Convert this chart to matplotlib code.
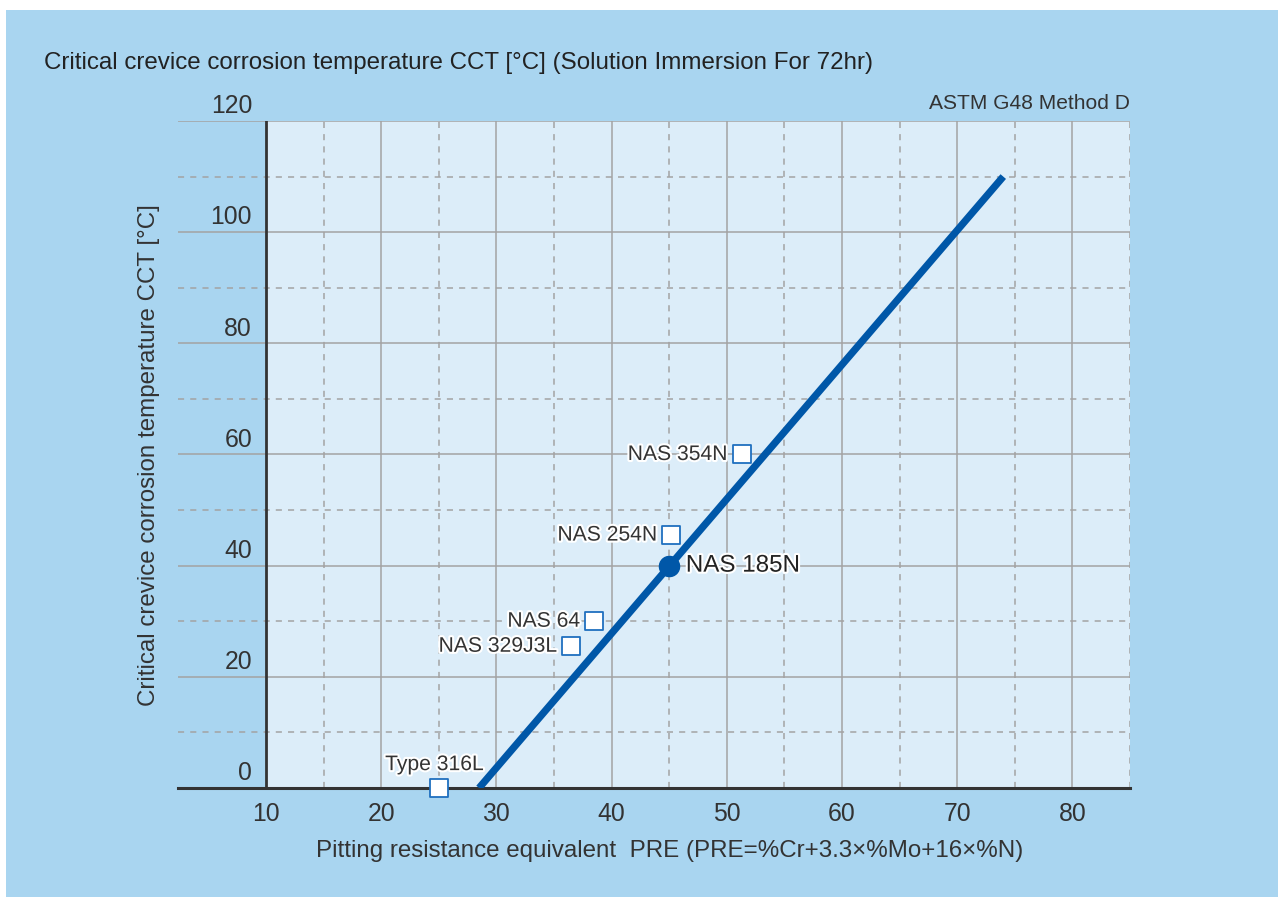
import matplotlib.pyplot as plt
import matplotlib.patheffects as pe
from matplotlib.patches import Rectangle

# data
grades = ['Type 316L', 'NAS 329J3L', 'NAS 64', 'NAS 254N', 'NAS 354N']
pre = [25, 36.5, 38.5, 45.2, 51.3]
cct = [0, 25.5, 30, 45.5, 60]
label_offset = [(-3, 10), (-10, 0), (-10, 0), (-10, 0), (-10, 0)]

line_pre = [28.5, 74]
line_cct = [0, 110]

main_name = 'NAS 185N'
main_pre = 45
main_cct = 40

xticks = [10, 20, 30, 40, 50, 60, 70, 80]
yticks = [0, 20, 40, 60, 80, 100, 120]

bg = '#a9d5f0'
plot_bg = '#dcedf9'
blue = '#0057a8'
grid_c = '#a3a3a3'
txt = '#333333'

plt.rcParams['font.family'] = ['Liberation Sans', 'DejaVu Sans']

fig = plt.figure(figsize=(12.78, 8.97), dpi=100, facecolor='white')
fig.patches.append(Rectangle((6 / 1278, 0), 1, 1 - 10 / 897, transform=fig.transFigure,
                             facecolor=bg, edgecolor='none', zorder=-10))

ax = fig.add_axes([178 / 1278, 1 - 788 / 897, 952 / 1278, 667 / 897])
ax.set_zorder(1)
ax.set_facecolor('none')
ax.set_xlim(2.37, 85)
ax.set_ylim(0, 120)
for s in ax.spines.values():
    s.set_visible(False)
ax.set_xticks([])
ax.set_yticks([])

ax.axvspan(10, 85, color=plot_bg, zorder=0, lw=0)

# grid
for v in range(15, 90, 5):
    ls = '-' if v % 10 == 0 else (0, (4, 4))
    ax.axvline(v, color=grid_c, lw=1.1, ls=ls, zorder=1)
for h in range(10, 130, 10):
    ls = '-' if h % 20 == 0 else (0, (4, 4))
    ax.axhline(h, color=grid_c, lw=1.1, ls=ls, zorder=1)
ax.axvline(10, color=txt, lw=2, zorder=2)
ax.axhline(0, color=txt, lw=2.2, zorder=2, clip_on=False)

# tick labels
for t in yticks:
    ax.text(8.8, t + 0.5, str(t), ha='right', va='bottom', fontsize=17.8, color=txt)
for t in xticks:
    ax.text(t, -2.6, str(t), ha='center', va='top', fontsize=17.8, color=txt)

# trend line and points
ax.plot(line_pre, line_cct, color=blue, lw=5.2, solid_capstyle='butt', zorder=3)
halo = [pe.withStroke(linewidth=3, foreground='white')]
ax.scatter(pre, cct, marker='s', s=150, facecolor='white', edgecolor='#1f6fbf',
           linewidth=1.3, zorder=5, clip_on=False)
for name, x, y, off in zip(grades, pre, cct, label_offset):
    ha = 'center' if off[0] > -5 else 'right'
    va = 'bottom' if off[1] > 0 else 'center'
    ax.annotate(name, (x, y), xytext=off, textcoords='offset points', ha=ha, va=va,
                fontsize=15.2, color=txt, path_effects=halo, zorder=6)
ax.scatter([main_pre], [main_cct], marker='o', s=210, color=blue, zorder=5)
ax.annotate(main_name, (main_pre, main_cct), xytext=(12, 0), textcoords='offset points',
            ha='left', va='center', fontsize=17.4, color='#222222', path_effects=halo, zorder=6)

ax.text(85, 121.5, 'ASTM G48 Method D', ha='right', va='bottom', fontsize=15.1, color=txt)

fig.text(44 / 1278, 1 - 63 / 897, 'Critical crevice corrosion temperature CCT [°C] (Solution Immersion For 72hr)',
         ha='left', va='center', fontsize=17.4, color='#222222')
fig.text(670 / 1278, 1 - 851 / 897, 'Pitting resistance equivalent  PRE (PRE=%Cr+3.3×%Mo+16×%N)',
         ha='center', va='center', fontsize=17.4, color=txt)
fig.text(149 / 1278, 1 - 455 / 897, 'Critical crevice corrosion temperature CCT [°C]',
         ha='center', va='center', rotation=90, fontsize=17.4, color=txt)

fig.savefig('out.png', dpi=100, facecolor=fig.get_facecolor())
